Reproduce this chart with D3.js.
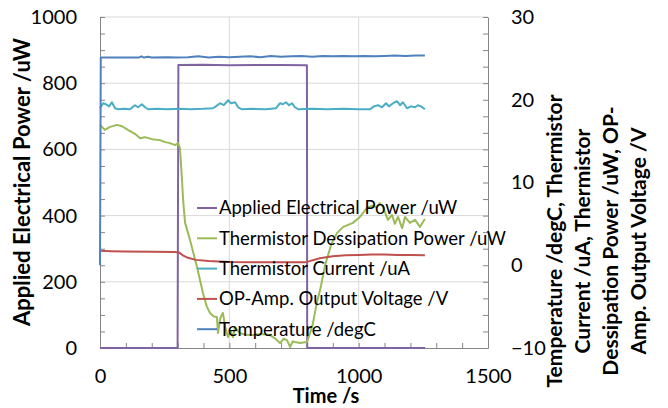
<!DOCTYPE html>
<html>
<head>
<meta charset="utf-8">
<script src="https://cdn.jsdelivr.net/npm/d3@7"></script>
<style>
  body { margin: 0; background: #fff; }
  svg { display: block; font-family: Lato, "Open Sans", sans-serif; }
</style>
</head>
<body>
<div id="chart"></div>
<script>
// series data, [time s, value]
const appliedPower = [[0,0],[300,0],[303,855],[400,856],[500,854],[600,855],[700,855],[800,854],[801,0],[1257,0]];

const dissipationPower = [[0,674],[19,659],[39,668],[66,674],[85,670],[108,659],[135,647],[155,634],[174,637],[201,631],
  [232,628],[251,622],[271,619],[290,613],[302,619],[309,604],[316,520],[322,440],[329,378],[348,326],[375,245],[398,166],
  [413,125],[425,106],[440,95],[452,94],[456,45],[465,90],[475,106],[485,60],[495,33],[505,50],[514,33],[522,63],[540,45],
  [565,40],[591,39],[620,42],[657,39],[675,30],[696,15],[710,28],[723,24],[735,3],[745,20],[754,18],[773,15],[800,18],
  [812,45],[822,70],[839,140],[851,175],[870,250],[895,315],[916,347],[940,366],[978,378],[1005,396],[1032,423],[1052,430],
  [1070,425],[1082,438],[1094,426],[1113,387],[1129,402],[1140,375],[1152,396],[1168,362],[1179,396],[1198,378],[1218,387],
  [1237,366],[1256,390]];

const thermistorCurrent = [[0,18.97],[12,19.58],[23,19.46],[35,19.2],[46,19.7],[58,18.97],[70,18.85],[95,18.9],[116,18.85],
  [135,19.34],[147,19.09],[162,19.46],[174,19.09],[186,18.85],[220,18.9],[260,18.85],[309,18.9],[350,18.85],[400,18.9],
  [437,18.97],[448,19.2],[464,19.58],[479,19.34],[495,19.94],[506,19.58],[522,19.7],[534,19.09],[549,18.85],[590,18.9],
  [640,18.85],[680,18.97],[696,19.58],[707,19.46],[719,19.7],[731,19.34],[742,19.58],[754,19.09],[766,18.85],[820,18.9],
  [880,18.85],[940,18.9],[1000,18.85],[1044,18.85],[1059,19.2],[1075,19.34],[1090,19.09],[1106,19.58],[1117,19.2],
  [1133,19.58],[1148,19.82],[1160,19.34],[1171,19.7],[1187,18.97],[1202,19.2],[1218,19.09],[1229,19.34],[1241,19.2],[1256,18.85]];

const opAmpVoltage = [[0,1.75],[40,1.7],[100,1.65],[200,1.62],[290,1.6],[305,1.55],[320,1.2],[340,0.9],[370,0.65],
  [420,0.5],[500,0.4],[600,0.35],[700,0.35],[790,0.35],[810,0.5],[850,0.85],[900,1.1],[950,1.2],[1000,1.25],
  [1050,1.3],[1100,1.3],[1150,1.25],[1200,1.25],[1256,1.2]];

const temperature = [[0,0],[3,25.1],[100,25.1],[150,25.1],[160,25.25],[170,25.1],[185,25.2],[200,25.1],[260,25.15],
  [300,25.1],[340,25.15],[380,25.25],[420,25.1],[460,25.2],[500,25.15],[540,25.2],[580,25.25],[620,25.15],[660,25.3],
  [700,25.2],[740,25.25],[780,25.3],[820,25.2],[860,25.3],[900,25.25],[940,25.3],[980,25.25],[1020,25.3],[1060,25.25],
  [1100,25.3],[1140,25.35],[1180,25.3],[1220,25.35],[1256,25.35]];

const xTicks = [0, 500, 1000, 1500];
const yLeftTicks = [0, 200, 400, 600, 800, 1000];
const yRightTicks = [-10, 0, 10, 20, 30];

const legendNames = ['Applied Electrical Power /uW', 'Thermistor Dessipation Power /uW', 'Thermistor Current /uA',
  'OP-Amp. Output Voltage /V', 'Temperature /degC'];
const colors = ['#8064A2', '#9BBB59', '#4BACC6', '#C0504D', '#4F81BD'];

const margin = {top: 17, right: 180, bottom: 60, left: 100};
const width = 668 - margin.left - margin.right;
const height = 408 - margin.top - margin.bottom;

const svg = d3.select('#chart').append('svg')
  .attr('width', 668)
  .attr('height', 408);

const chart = svg.append('g')
  .attr('transform', `translate(${margin.left}, ${margin.top})`);

const x = d3.scaleLinear().domain([0, 1500]).range([0, width]);
const yL = d3.scaleLinear().domain([0, 1000]).range([height, 0]);
const yR = d3.scaleLinear().domain([-10, 30]).range([height, 0]);

// grid
chart.append('g').selectAll('line').data(yLeftTicks.filter(d => d > 0)).join('line')
  .attr('x1', 0).attr('x2', width)
  .attr('y1', d => yL(d)).attr('y2', d => yL(d))
  .attr('stroke', '#d9d9d9');
chart.append('g').selectAll('line').data([500, 1000]).join('line')
  .attr('y1', 0).attr('y2', height)
  .attr('x1', d => x(d)).attr('x2', d => x(d))
  .attr('stroke', '#d9d9d9');

function styleAxis(g) {
  g.select('.domain').attr('stroke', '#868686');
  g.selectAll('.tick line').attr('stroke', '#868686');
  g.selectAll('text').attr('fill', '#000').style('font-size', '20px').style('font-family', 'Lato, "Open Sans", sans-serif');
}

// minor ticks
chart.append('g').call(d3.axisLeft(yL).tickValues(d3.range(0, 1001, 50)).tickSize(-5).tickSizeOuter(0).tickFormat(''))
  .call(styleAxis);
chart.append('g').attr('transform', `translate(0, ${height})`)
  .call(d3.axisBottom(x).tickValues(d3.range(0, 1501, 100)).tickSize(-5).tickSizeOuter(0).tickFormat(''))
  .call(styleAxis);
chart.append('g').attr('transform', `translate(${width}, 0)`)
  .call(d3.axisRight(yR).tickValues(d3.range(-10, 31, 2)).tickSize(-5).tickSizeOuter(0).tickFormat(''))
  .call(styleAxis);

// labels
const fmt = d3.format('d');
chart.append('g').call(d3.axisLeft(yL).tickValues(yLeftTicks).tickSize(0).tickPadding(23).tickFormat(fmt))
  .call(g => g.select('.domain').remove()).call(styleAxis);
chart.append('g').attr('transform', `translate(0, ${height})`)
  .call(d3.axisBottom(x).tickValues(xTicks).tickSize(0).tickPadding(21).tickFormat(fmt))
  .call(g => g.select('.domain').remove()).call(styleAxis);
chart.append('g').attr('transform', `translate(${width}, 0)`)
  .call(d3.axisRight(yR).tickValues(yRightTicks).tickSize(0).tickPadding(23).tickFormat(fmt))
  .call(g => g.select('.domain').remove()).call(styleAxis);

// lines
const lineL = d3.line().x(d => x(d[0])).y(d => yL(d[1]));
const lineR = d3.line().x(d => x(d[0])).y(d => yR(d[1]));

const series = [
  {data: appliedPower, line: lineL, color: colors[0]},
  {data: dissipationPower, line: lineL, color: colors[1]},
  {data: thermistorCurrent, line: lineR, color: colors[2]},
  {data: opAmpVoltage, line: lineR, color: colors[3]},
  {data: temperature, line: lineR, color: colors[4]}
];

chart.append('g').selectAll('path').data(series).join('path')
  .attr('d', s => s.line(s.data))
  .attr('fill', 'none')
  .attr('stroke', s => s.color)
  .attr('stroke-width', 2)
  .attr('stroke-linejoin', 'round');

// legend
const legend = svg.append('g').attr('transform', 'translate(197, 208)');
const rows = legend.selectAll('g').data(legendNames).join('g')
  .attr('transform', (d, i) => `translate(0, ${i * 30.3})`);
rows.append('line')
  .attr('x1', 0).attr('x2', 20)
  .attr('stroke', (d, i) => colors[i])
  .attr('stroke-width', 2);
rows.append('text')
  .attr('x', 22).attr('dy', '0.35em')
  .style('font-size', '18.5px')
  .text(d => d);

// axis titles
svg.append('text')
  .attr('transform', 'translate(30, 182) rotate(-90)')
  .attr('text-anchor', 'middle')
  .style('font-size', '22px').style('font-weight', 'bold')
  .text('Applied Electrical Power /uW');

svg.append('text')
  .attr('x', 326).attr('y', 403)
  .attr('text-anchor', 'middle')
  .style('font-size', '20px').style('font-weight', 'bold')
  .text('Time /s');

const rightTitle = ['Temperature /degC, Thermistor', 'Current /uA, Thermistor', 'Dessipation Power /uW, OP-', 'Amp. Output Voltage /V'];
svg.append('g').selectAll('text').data(rightTitle).join('text')
  .attr('transform', (d, i) => `translate(${562 + i * 28}, 241) rotate(-90)`)
  .attr('text-anchor', 'middle')
  .style('font-size', '21px').style('font-weight', 'bold')
  .text(d => d);
</script>
</body>
</html>
